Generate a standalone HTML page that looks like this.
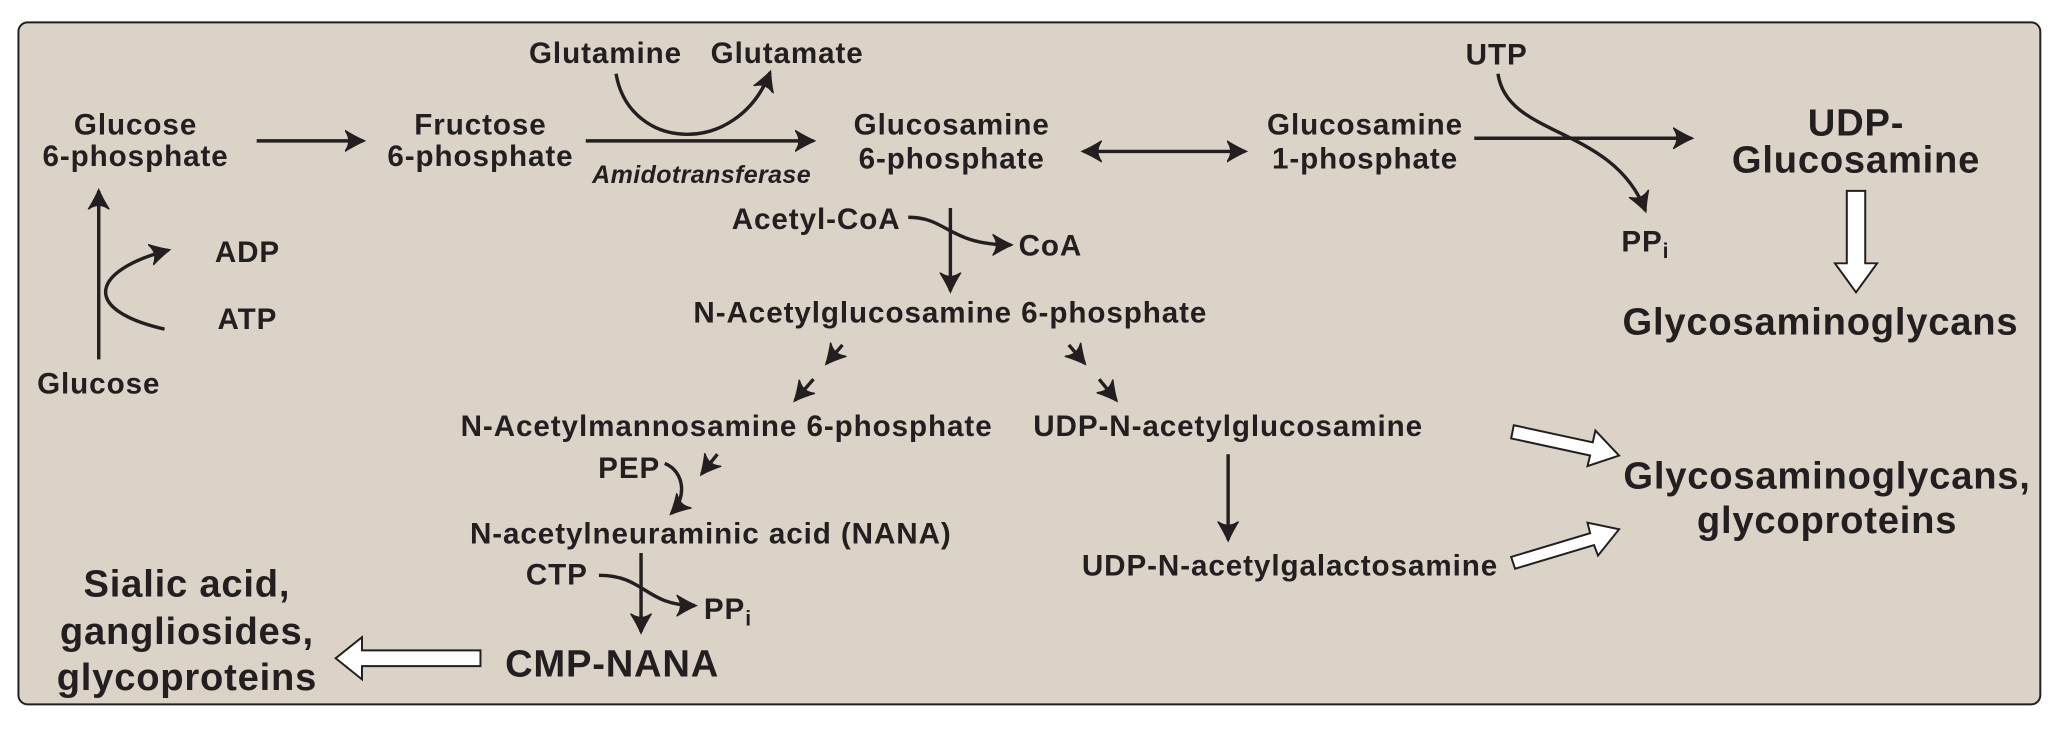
<!DOCTYPE html>
<html><head><meta charset="utf-8"><style>
html,body{margin:0;padding:0;background:#fff;}
svg{display:block;}
text{font-family:"Liberation Sans",Arial,sans-serif;font-weight:bold;fill:#231f20;}
</style></head><body>
<svg width="2064" height="732" viewBox="0 0 1568 556" preserveAspectRatio="none">
<defs>
<marker id="ah2" markerWidth="20" markerHeight="20" refX="14" refY="9" orient="auto-start-reverse" markerUnits="userSpaceOnUse">
<path d="M0,1 Q8,6 15,9 Q8,12 0,17 Q6,9 0,1 Z" fill="#231f20" stroke="#231f20" stroke-width="1"/>
</marker>
</defs>
<rect x="14" y="17" width="1536" height="518" rx="7" fill="#dbd2c8" stroke="#231f20" stroke-width="1.5"/>
<g stroke="#231f20" stroke-width="2.6" fill="none">
<line x1="195" y1="107" x2="276" y2="107" marker-end="url(#ah2)"/>
<line x1="445" y1="107" x2="618" y2="107" marker-end="url(#ah2)"/>
<path d="M468,56 C478,115 560,120 585,55" marker-end="url(#ah2)"/>
<line x1="823" y1="115" x2="946" y2="115" marker-start="url(#ah2)" marker-end="url(#ah2)"/>
<line x1="1120" y1="105" x2="1285" y2="105" marker-end="url(#ah2)"/>
<path d="M1138,56 C1145,105 1225,95 1250,160" marker-end="url(#ah2)"/>
<line x1="75" y1="273" x2="75" y2="145" marker-end="url(#ah2)"/>
<path d="M125,250 C60,235 70,205 128,190" marker-end="url(#ah2)"/>
<line x1="722" y1="158" x2="722" y2="221" marker-end="url(#ah2)"/>
<path d="M690,165 C720,165 720,186 768,186" marker-end="url(#ah2)"/>
<path d="M640,262 L628,276" marker-end="url(#ah2)"/>
<path d="M618,288 L604,304" marker-end="url(#ah2)"/>
<path d="M812,262 L824,276" marker-end="url(#ah2)"/>
<path d="M835,288 L848,304" marker-end="url(#ah2)"/>
<path d="M545,345 L533,360" marker-end="url(#ah2)"/>
<path d="M505,352 C520,358 522,378 510,390" marker-end="url(#ah2)"/>
<line x1="487" y1="420" x2="487" y2="480" marker-end="url(#ah2)"/>
<path d="M455,437 C490,437 490,460 528,460" marker-end="url(#ah2)"/>
<line x1="933" y1="345" x2="933" y2="410" marker-end="url(#ah2)"/>
</g>
<g fill="#fff" stroke="#231f20" stroke-width="1.5">
<polygon points="1403,145 1417,145 1417,200 1426,200 1410,222 1394,200 1403,200"/>
<polygon points="365,494 365,506 275,506 275,516 255,500 275,484 275,494"/>
<polygon points="1150,323 1210,336 1212,327 1230,346 1206,354 1208,346 1148,333"/>
<polygon points="1148,423 1208,405 1206,397 1230,402 1214,422 1211,414 1151,432"/>
</g>
<g font-size="22.5" letter-spacing="0.7" text-anchor="middle">
<text x="103" y="102"><tspan x="103">Glucose</tspan><tspan x="103" dy="24">6-phosphate</tspan></text>
<text x="365" y="102"><tspan x="365">Fructose</tspan><tspan x="365" dy="24">6-phosphate</tspan></text>
<text x="723" y="102"><tspan x="723">Glucosamine</tspan><tspan x="723" dy="26">6-phosphate</tspan></text>
<text x="1037" y="102"><tspan x="1037">Glucosamine</tspan><tspan x="1037" dy="26">1-phosphate</tspan></text>
<text x="460" y="48">Glutamine</text>
<text x="598" y="48">Glutamate</text>
<text x="533" y="139" font-weight="normal" font-style="italic" font-size="19" letter-spacing="0.3">Amidotransferase</text>
<text x="1137" y="49">UTP</text>
<text x="1250" y="191">PP<tspan font-size="16" dy="5">i</tspan></text>
<text x="188" y="199">ADP</text>
<text x="188" y="250">ATP</text>
<text x="75" y="299">Glucose</text>
<text x="620" y="174">Acetyl-CoA</text>
<text x="798" y="194">CoA</text>
<text x="722" y="245">N-Acetylglucosamine 6-phosphate</text>
<text x="552" y="331">N-Acetylmannosamine 6-phosphate</text>
<text x="933" y="331">UDP-N-acetylglucosamine</text>
<text x="478" y="363">PEP</text>
<text x="540" y="413">N-acetylneuraminic acid (NANA)</text>
<text x="423" y="444">CTP</text>
<text x="553" y="470">PP<tspan font-size="16" dy="5">i</tspan></text>
<text x="980" y="437">UDP-N-acetylgalactosamine</text>
</g>
<g font-size="29" letter-spacing="0.6" text-anchor="middle">
<text x="1410" y="103"><tspan x="1410">UDP-</tspan><tspan x="1410" dy="28">Glucosamine</tspan></text>
<text x="1383" y="254">Glycosaminoglycans</text>
<text x="1388" y="371"><tspan x="1388">Glycosaminoglycans,</tspan><tspan x="1388" dy="34">glycoproteins</tspan></text>
<text x="465" y="514">CMP-NANA</text>
<text x="142" y="453"><tspan x="142">Sialic acid,</tspan><tspan x="142" dy="36">gangliosides,</tspan><tspan x="142" dy="35">glycoproteins</tspan></text>
</g>
</svg>
</body></html>
